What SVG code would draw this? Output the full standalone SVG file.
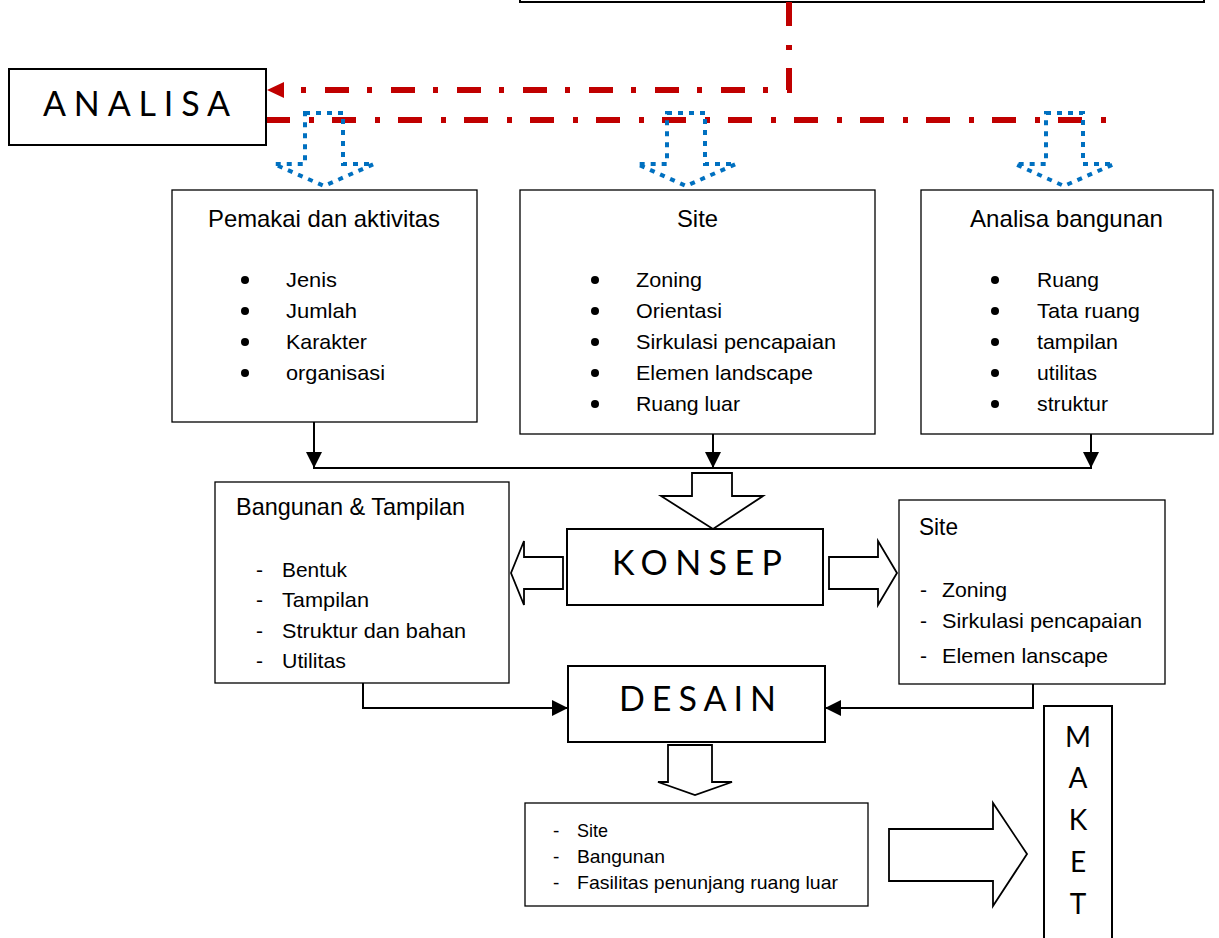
<svg xmlns="http://www.w3.org/2000/svg" width="1219" height="938" viewBox="0 0 1219 938">
<style>
.box{fill:#fff;stroke:#000;stroke-width:1.3}
.bbox{fill:#fff;stroke:#000;stroke-width:2}
.t{font-family:"Liberation Sans Narrow","Liberation Sans",sans-serif;fill:#000}
.h{font-size:24px}
.li{font-size:21px}
.big{font-family:Lato,"Open Sans",sans-serif;font-size:34px;font-weight:400;fill:#000}
.mk{font-family:Lato,"Open Sans",sans-serif;font-size:28px;font-weight:400;fill:#000;text-anchor:middle}
.red{fill:none;stroke:#C00000;stroke-width:6;stroke-dasharray:24 19 5 18}
.blue{fill:none;stroke:#0070C0;stroke-width:4;stroke-dasharray:5 6}
.blk{fill:#fff;stroke:#000;stroke-width:1.8;stroke-linejoin:miter}
.ln{fill:none;stroke:#000;stroke-width:2}
</style>
<defs>
<marker id="ahw" markerWidth="16" markerHeight="16" refX="15" refY="8" orient="auto" markerUnits="userSpaceOnUse" viewBox="0 0 16 16">
<path d="M0,0 L16,8 L0,16 Z" fill="#000"/>
</marker>
</defs>

<g id="top-box"><rect class="bbox" x="520" y="-20" width="684" height="22"/></g>

<g id="connectors">
<path class="red" d="M789,2 L789,90 L282,90"/>
<path d="M267,90 L284,82 L284,98 Z" fill="#C00000"/>
<path class="red" d="M266,120 L1108,120"/>
<path class="blue" d="M305,113 L343,113 L343,164 L374,164 L324,186 L274,164 L305,164 Z"/>
<path class="blue" d="M667,113 L705,113 L705,164 L736,164 L686,186 L637,164 L667,164 Z"/>
<path class="blue" d="M1046,113 L1083,113 L1083,164 L1114,164 L1064,186 L1015,164 L1046,164 Z"/>
<path class="ln" d="M314,383 L314,467" marker-end="url(#ahw)"/>
<path class="ln" d="M713,434 L713,467" marker-end="url(#ahw)"/>
<path class="ln" d="M1091,434 L1091,467" marker-end="url(#ahw)"/>
<path class="ln" d="M313,468 L1092,468"/>
<path class="blk" d="M692,473 L732,473 L732,496 L763,496 L713,529 L661,496 L692,496 Z"/>
<path class="blk" d="M563,557 L563,589 L524,589 L524,605 L511,573 L524,541 L524,557 Z"/>
<path class="blk" d="M829,557 L829,589 L878,589 L878,605 L897,573 L878,541 L878,557 Z"/>
<path class="ln" d="M363,683 L363,708 L567,708" marker-end="url(#ahw)"/>
<path class="ln" d="M1033,684 L1033,708 L826,708" marker-end="url(#ahw)"/>
<path class="blk" d="M668,745 L712,745 L712,782 L732,782 L695,795 L658,782 L668,782 Z"/>
<path class="blk" d="M889,829 L993,829 L993,803 L1027,854 L993,906 L993,881 L889,881 Z"/>
</g>

<g id="analisa">
<rect class="bbox" x="9" y="69" width="257" height="76"/>
<text class="big" x="43" y="116" textLength="187" lengthAdjust="spacing">ANALISA</text>
</g>

<g id="pemakai">
<rect class="box" x="172" y="190" width="305" height="232"/>
<text class="t h" x="208" y="227" textLength="232" lengthAdjust="spacingAndGlyphs">Pemakai dan aktivitas</text>
<g class="t li">
<text x="286" y="287" textLength="51" lengthAdjust="spacingAndGlyphs">Jenis</text>
<text x="286" y="318" textLength="71" lengthAdjust="spacingAndGlyphs">Jumlah</text>
<text x="286" y="349" textLength="81" lengthAdjust="spacingAndGlyphs">Karakter</text>
<text x="286" y="380" textLength="99" lengthAdjust="spacingAndGlyphs">organisasi</text>
</g>
<g fill="#000"><circle cx="245" cy="280" r="4"/><circle cx="245" cy="311" r="4"/><circle cx="245" cy="342" r="4"/><circle cx="245" cy="373" r="4"/></g>
</g>

<g id="site">
<rect class="box" x="520" y="190" width="355" height="244"/>
<text class="t h" x="677" y="227" textLength="41" lengthAdjust="spacingAndGlyphs">Site</text>
<g class="t li">
<text x="636" y="287" textLength="66" lengthAdjust="spacingAndGlyphs">Zoning</text>
<text x="636" y="318" textLength="86" lengthAdjust="spacingAndGlyphs">Orientasi</text>
<text x="636" y="349" textLength="200" lengthAdjust="spacingAndGlyphs">Sirkulasi pencapaian</text>
<text x="636" y="380" textLength="177" lengthAdjust="spacingAndGlyphs">Elemen landscape</text>
<text x="636" y="411" textLength="104" lengthAdjust="spacingAndGlyphs">Ruang luar</text>
</g>
<g fill="#000"><circle cx="595" cy="280" r="4"/><circle cx="595" cy="311" r="4"/><circle cx="595" cy="342" r="4"/><circle cx="595" cy="373" r="4"/><circle cx="595" cy="404" r="4"/></g>
</g>

<g id="analisa-bangunan">
<rect class="box" x="921" y="190" width="292" height="244"/>
<text class="t h" x="970" y="227" textLength="193" lengthAdjust="spacingAndGlyphs">Analisa bangunan</text>
<g class="t li">
<text x="1037" y="287" textLength="62" lengthAdjust="spacingAndGlyphs">Ruang</text>
<text x="1037" y="318" textLength="103" lengthAdjust="spacingAndGlyphs">Tata ruang</text>
<text x="1037" y="349" textLength="81" lengthAdjust="spacingAndGlyphs">tampilan</text>
<text x="1037" y="380" textLength="60" lengthAdjust="spacingAndGlyphs">utilitas</text>
<text x="1037" y="411" textLength="71" lengthAdjust="spacingAndGlyphs">struktur</text>
</g>
<g fill="#000"><circle cx="995" cy="280" r="4"/><circle cx="995" cy="311" r="4"/><circle cx="995" cy="342" r="4"/><circle cx="995" cy="373" r="4"/><circle cx="995" cy="404" r="4"/></g>
</g>

<g id="bangunan-tampilan">
<rect class="box" x="215" y="482" width="294" height="201"/>
<text class="t h" x="236" y="515" textLength="229" lengthAdjust="spacingAndGlyphs">Bangunan &amp; Tampilan</text>
<g class="t li">
<text x="256" y="577">-</text><text x="282" y="577" textLength="65" lengthAdjust="spacingAndGlyphs">Bentuk</text>
<text x="256" y="607">-</text><text x="282" y="607" textLength="87" lengthAdjust="spacingAndGlyphs">Tampilan</text>
<text x="256" y="638">-</text><text x="282" y="638" textLength="184" lengthAdjust="spacingAndGlyphs">Struktur dan bahan</text>
<text x="256" y="668">-</text><text x="282" y="668" textLength="64" lengthAdjust="spacingAndGlyphs">Utilitas</text>
</g>
</g>

<g id="konsep">
<rect class="bbox" x="567" y="529" width="256" height="76"/>
<text class="big" x="612" y="575" textLength="170" lengthAdjust="spacing">KONSEP</text>
</g>

<g id="site-konsep">
<rect class="box" x="899" y="500" width="266" height="184"/>
<text class="t h" x="919" y="535" textLength="39" lengthAdjust="spacingAndGlyphs">Site</text>
<g class="t li">
<text x="920" y="597">-</text><text x="942" y="597" textLength="65" lengthAdjust="spacingAndGlyphs">Zoning</text>
<text x="920" y="628">-</text><text x="942" y="628" textLength="200" lengthAdjust="spacingAndGlyphs">Sirkulasi pencapaian</text>
<text x="920" y="663">-</text><text x="942" y="663" textLength="166" lengthAdjust="spacingAndGlyphs">Elemen lanscape</text>
</g>
</g>

<g id="desain">
<rect class="bbox" x="568" y="666" width="257" height="76"/>
<text class="big" x="619" y="711" textLength="157" lengthAdjust="spacing">DESAIN</text>
</g>

<g id="hasil">
<rect class="box" x="525" y="803" width="343" height="103"/>
<g class="t" font-size="19">
<text x="553" y="837">-</text><text x="577" y="837" textLength="31" lengthAdjust="spacingAndGlyphs">Site</text>
<text x="553" y="863">-</text><text x="577" y="863" textLength="88" lengthAdjust="spacingAndGlyphs">Bangunan</text>
<text x="553" y="889">-</text><text x="577" y="889" textLength="261" lengthAdjust="spacingAndGlyphs">Fasilitas penunjang ruang luar</text>
</g>
</g>

<g id="maket">
<rect class="bbox" x="1044" y="706" width="68" height="250"/>
<text class="mk" x="1078" y="747">M</text>
<text class="mk" x="1078" y="788">A</text>
<text class="mk" x="1078" y="830">K</text>
<text class="mk" x="1078" y="872">E</text>
<text class="mk" x="1078" y="914">T</text>
</g>
</svg>
